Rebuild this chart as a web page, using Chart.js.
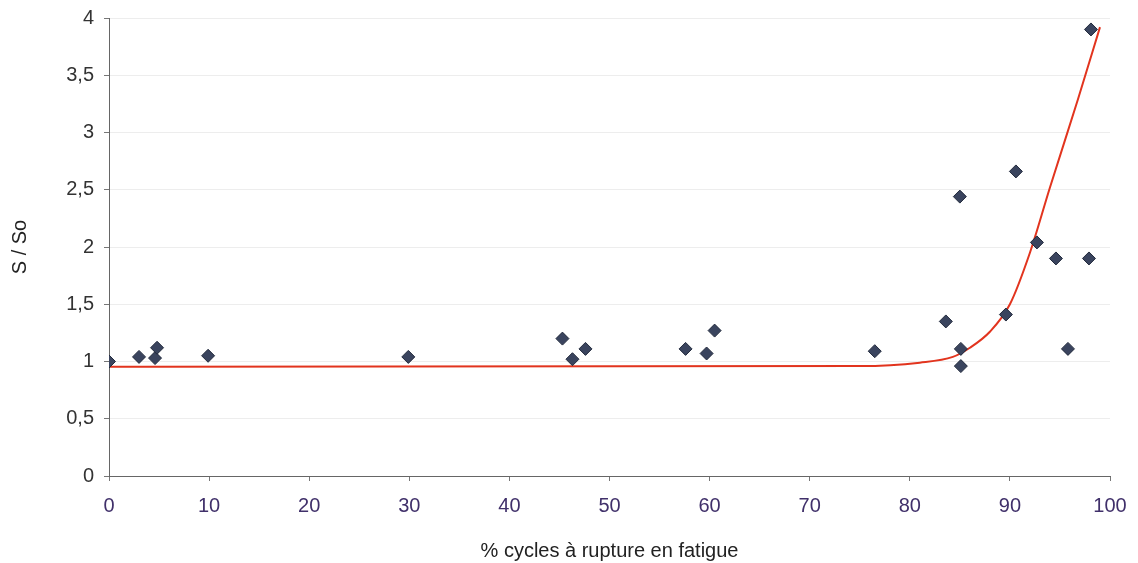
<!DOCTYPE html>
<html>
<head>
<meta charset="utf-8">
<script src="https://cdn.jsdelivr.net/npm/chart.js@4/dist/chart.umd.min.js"></script>
<style>
  html, body { margin: 0; padding: 0; background: #fff; }
  #wrap { width: 1138px; height: 563px; }
</style>
</head>
<body>
<div id="wrap"><canvas id="graphe"></canvas></div>
<script>
// --- Données mesurées ---
const cyclesPct = [0, 3, 4.6, 4.8, 9.9, 29.9, 45.3, 46.3, 47.6, 57.6, 59.7, 60.5, 76.5, 83.6, 85, 85.1, 85.1, 89.6, 90.6, 92.7, 94.6, 95.8, 97.9, 98.1];
const rapportS = [1.0, 1.04, 1.03, 1.12, 1.05, 1.04, 1.20, 1.02, 1.11, 1.11, 1.07, 1.27, 1.09, 1.35, 2.44, 1.11, 0.96, 1.41, 2.66, 2.04, 1.90, 1.11, 1.90, 3.90];

// --- Courbe de tendance ---
const courbeX = [0, 75, 81, 84.3, 86, 88, 90, 92, 94, 96.8, 99];
const courbeY = [0.955, 0.96, 0.99, 1.04, 1.12, 1.26, 1.50, 1.95, 2.52, 3.29, 3.92];

const ticksY = [0, 0.5, 1, 1.5, 2, 2.5, 3, 3.5, 4];

const points = cyclesPct.map((x, i) => ({ x: x, y: rapportS[i] }));
const courbe = courbeX.map((x, i) => ({ x: x, y: courbeY[i] }));

Chart.defaults.font.family = '"Liberation Sans", Arial, sans-serif';
Chart.defaults.font.size = 20;

const ctx = document.getElementById('graphe').getContext('2d');

new Chart(ctx, {
    type: 'scatter',
    data: {
        datasets: [
            {
                label: 'S / So',
                data: points,
                pointStyle: 'rectRot',
                pointRadius: 6.5,
                backgroundColor: '#3a445e',
                borderColor: '#222a3c',
                borderWidth: 1,
                order: 1
            },
            {
                label: 'tendance',
                type: 'line',
                data: courbe,
                showLine: true,
                borderColor: 'rgb(226, 52, 30)',
                borderWidth: 2,
                pointRadius: 0,
                tension: 0.4,
                cubicInterpolationMode: 'monotone',
                fill: false,
                order: 2
            }
        ]
    },
    options: {
        responsive: true,
        maintainAspectRatio: false,
        animation: false,
        layout: {
            padding: { top: 18, right: 28, left: 0, bottom: 0 }
        },
        plugins: {
            legend: { display: false },
            tooltip: { enabled: false }
        },
        scales: {
            x: {
                type: 'linear',
                min: 0,
                max: 100,
                ticks: {
                    stepSize: 10,
                    color: '#40306a',
                    padding: 13
                },
                grid: {
                    drawOnChartArea: false,
                    tickLength: 5,
                    tickColor: '#777'
                },
                border: { color: '#666', width: 1 },
                title: {
                    display: true,
                    text: '% cycles à rupture en fatigue',
                    color: '#222',
                    font: { size: 20 },
                    padding: { top: 0, bottom: 0 }
                },
                afterFit: function(scale) {
                    scale.height = 87;
                    scale.paddingLeft = 0;
                    scale.paddingRight = 0;
                }
            },
            y: {
                min: 0,
                max: 4,
                afterBuildTicks: function(scale) {
                    scale.ticks = ticksY.map(v => ({ value: v }));
                },
                ticks: {
                    color: '#333',
                    padding: 10,
                    callback: function(v) {
                        return v.toString().replace('.', ',');
                    }
                },
                grid: {
                    color: 'rgba(0, 0, 0, 0.07)',
                    tickColor: '#777',
                    tickLength: 5
                },
                border: { color: '#666', width: 1 },
                title: {
                    display: true,
                    text: 'S / So',
                    color: '#222',
                    font: { size: 20 },
                    padding: { bottom: 0, top: 8 }
                },
                afterFit: function(scale) {
                    scale.width = 109;
                    scale.paddingTop = 0;
                    scale.paddingBottom = 0;
                }
            }
        }
    }
});
</script>
</body>
</html>
